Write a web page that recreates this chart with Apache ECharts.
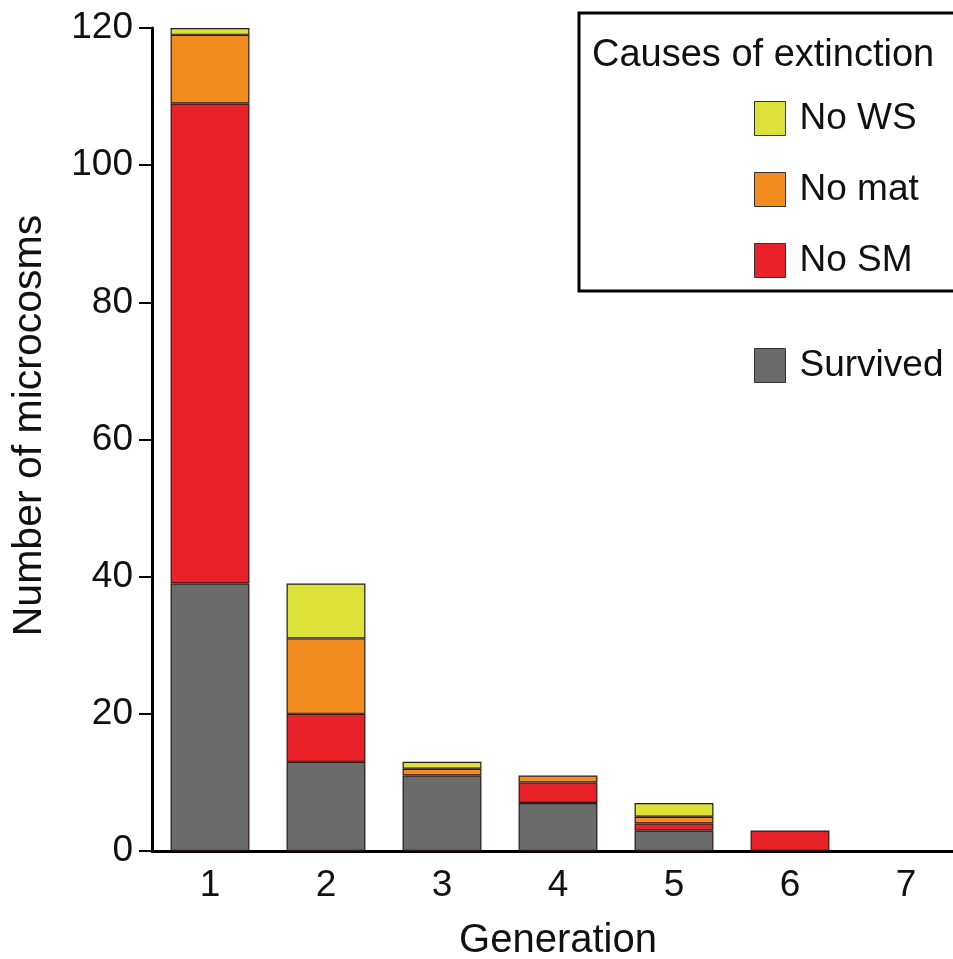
<!DOCTYPE html>
<html><head><meta charset="utf-8">
<script src="https://cdn.jsdelivr.net/npm/echarts@6/dist/echarts.min.js"></script>
<style>html,body{margin:0;padding:0;background:#fff}#c{width:953px;height:959px}</style>
</head><body><div id="c"></div>
<script>
const categories = ['1','2','3','4','5','6','7'];
const survived = [39, 13, 11, 7, 3, 0, 0];
const noSM     = [70, 7, 0, 3, 1, 3, 0];
const noMat    = [10, 11, 1, 1, 1, 0, 0];
const noWS     = [1, 8, 1, 0, 2, 0, 0];
const yTicks = [0, 20, 40, 60, 80, 100, 120];

const FONT = 'Liberation Sans, Arial, sans-serif';
const colors = {survived:'#6b6b6b', sm:'#e82228', mat:'#f28c1e', ws:'#dde23a'};
const chart = echarts.init(document.getElementById('c'), null, {renderer:'canvas'});
function s(name, data, color){
  return {name, type:'bar', stack:'t', data: data.map(v => v === 0 ? null : v), barWidth:'68%',
    itemStyle:{color, borderColor:'#2a1a1a', borderWidth:1.2}};
}
chart.setOption({
  animation:false,
  backgroundColor:'#fff',
  grid:{left:152, top:28, width:812, height:823, outerBoundsMode:'none', containLabel:false},
  xAxis:{type:'category', data:categories,
    axisLine:{lineStyle:{color:'#000', width:3}},
    axisTick:{show:false},
    axisLabel:{color:'#111', fontSize:37, fontFamily:FONT, margin:16},
    name:'Generation', nameLocation:'middle', nameGap:70,
    nameTextStyle:{color:'#111', fontSize:40, fontFamily:FONT}},
  yAxis:{type:'value', min:yTicks[0], max:yTicks[yTicks.length-1], interval:20,
    axisLine:{show:true, lineStyle:{color:'#000', width:3}},
    axisTick:{show:true, length:13, lineStyle:{color:'#000', width:2}},
    splitLine:{show:false},
    axisLabel:{color:'#111', fontSize:37, fontFamily:FONT, margin:19},
    name:'Number of microcosms', nameLocation:'middle', nameGap:102,
    nameTextStyle:{color:'#111', fontSize:41, fontFamily:FONT, padding:[0,0,0,28]}},
  legend:[
    {data:['No WS','No mat','No SM'], orient:'vertical', left:749, top:95,
     itemWidth:31, itemHeight:34, itemGap:34, icon:'rect',
     itemStyle:{borderColor:'#333', borderWidth:1},
     textStyle:{fontSize:37, lineHeight:34, fontFamily:FONT, color:'#111', padding:[0,0,0,9]}},
    {data:['Survived'], orient:'vertical', left:749, top:342,
     itemWidth:31, itemHeight:34, icon:'rect',
     itemStyle:{borderColor:'#333', borderWidth:1},
     textStyle:{fontSize:37, lineHeight:34, fontFamily:FONT, color:'#111', padding:[0,0,0,9]}}
  ],
  graphic:[
    {type:'rect', shape:{x:579, y:13, width:400, height:278}, style:{fill:'none', stroke:'#000', lineWidth:3}},
    {type:'text', left:592, top:37, style:{text:'Causes of extinction', fontSize:38, fontFamily:FONT, fill:'#111'}}
  ],
  series:[
    s('Survived', survived, colors.survived),
    s('No SM', noSM, colors.sm),
    s('No mat', noMat, colors.mat),
    s('No WS', noWS, colors.ws)
  ]
});
</script></body></html>
